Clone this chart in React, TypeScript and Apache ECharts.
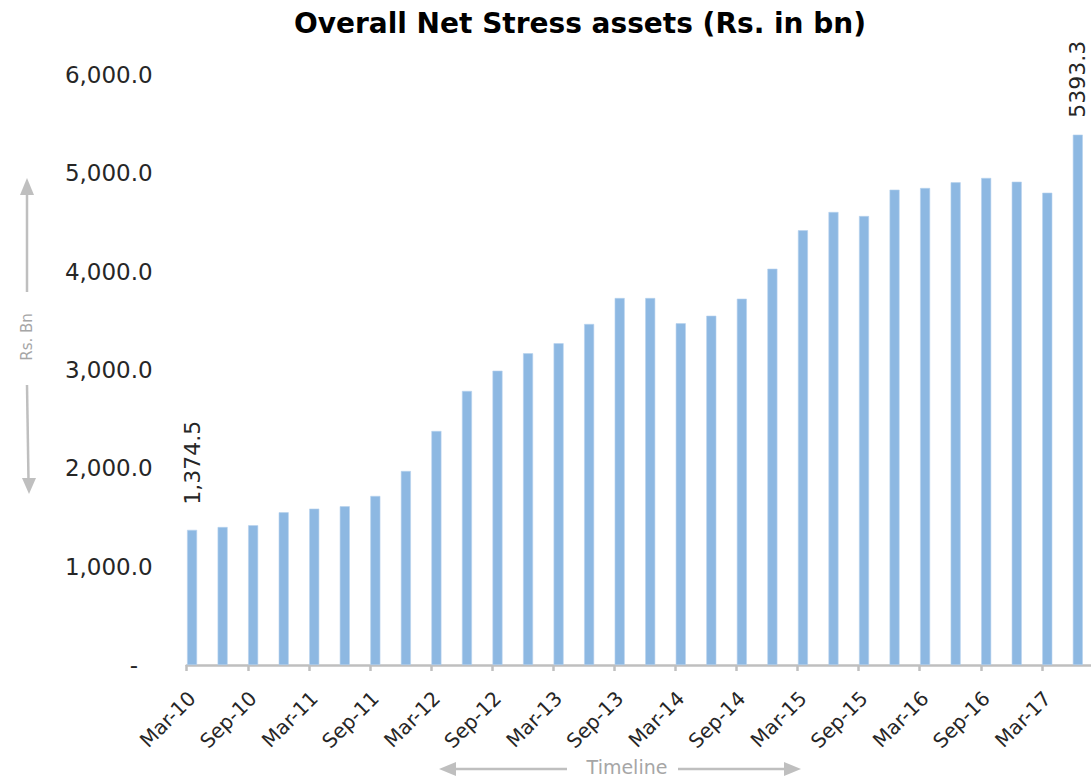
import React, { useEffect, useRef } from "react";
import * as echarts from "echarts";

const categories = [
  "Mar-10", "Jun-10", "Sep-10", "Dec-10",
  "Mar-11", "Jun-11", "Sep-11", "Dec-11",
  "Mar-12", "Jun-12", "Sep-12", "Dec-12",
  "Mar-13", "Jun-13", "Sep-13", "Dec-13",
  "Mar-14", "Jun-14", "Sep-14", "Dec-14",
  "Mar-15", "Jun-15", "Sep-15", "Dec-15",
  "Mar-16", "Jun-16", "Sep-16", "Dec-16",
  "Mar-17", "Jun-17",
];

const stressAssets = [
  1374.5, 1403, 1421, 1553,
  1590, 1614, 1719, 1973,
  2380, 2787, 2993, 3170,
  3272, 3468, 3732, 3732,
  3475, 3552, 3725, 4030,
  4421, 4607, 4566, 4834,
  4851, 4909, 4953, 4915,
  4803, 5393.3,
];

// data labels shown on specific bars (index -> text)
const labelIndices = [0, 29];
const labelTexts = ["1,374.5", "5393.3"];
const labelDistances = [25, 17];

const titleText = "Overall Net Stress assets (Rs. in bn)";
const yAxisTitle = "Rs. Bn";
const xAxisTitle = "Timeline";

const FONT = "'DejaVu Sans', sans-serif";
const GREY = "#BFBFBF";

function fmtY(v: number): string {
  if (v === 0) return "-\u00a0\u00a0";
  return v.toLocaleString("en-US", { minimumFractionDigits: 1, maximumFractionDigits: 1 });
}

export default function App() {
  const ref = useRef<HTMLDivElement>(null);

  useEffect(() => {
    document.body.style.margin = "0";
    if (!ref.current) return;
    const chart = echarts.init(ref.current, undefined, { renderer: "svg" });

    const barData = stressAssets.map((v, i) => {
      const k = labelIndices.indexOf(i);
      if (k < 0) return v;
      return {
        value: v,
        label: {
          show: true,
          position: "top",
          rotate: 90,
          align: "left",
          verticalAlign: "middle",
          distance: labelDistances[k],
          formatter: labelTexts[k],
          fontFamily: FONT,
          fontSize: 22,
          color: "#262626",
        },
      };
    });

    chart.setOption({
      animation: false,
      grid: {
        left: 186.7,
        right: -12,
        top: 75,
        bottom: 115,
        containLabel: false,
        outerBoundsMode: "none",
      },
      xAxis: {
        type: "category",
        data: categories,
        boundaryGap: true,
        axisLine: { show: true, lineStyle: { color: GREY, width: 2.5 } },
        axisTick: { show: true, interval: 1, length: 6, lineStyle: { color: GREY, width: 2.5 } },
        axisLabel: {
          interval: 1,
          rotate: 45,
          margin: 20,
          padding: [0, 14, 0, 0],
          fontFamily: FONT,
          fontSize: 20,
          color: "#262626",
        },
        splitLine: { show: false },
      },
      yAxis: {
        type: "value",
        min: 0,
        max: 6000,
        interval: 1000,
        axisLine: { show: false },
        axisTick: { show: false },
        splitLine: { show: false },
        axisLabel: {
          margin: 34,
          fontFamily: FONT,
          fontSize: 23,
          color: "#262626",
          formatter: (v: number) => fmtY(v),
        },
      },
      series: [
        {
          type: "bar",
          name: "Net Stress assets",
          data: barData,
          barWidth: 10,
          barGap: "98%",
          itemStyle: { color: "#8DB8E2", borderColor: "#B7D2EE", borderWidth: 0.6 },
        },
        {
          type: "bar",
          name: "spacer",
          data: stressAssets.map(() => null),
          barWidth: 10,
          itemStyle: { color: "transparent" },
          silent: true,
        },
      ],
      graphic: [
        {
          type: "text",
          x: 580,
          y: 23,
          style: {
            text: titleText,
            align: "center",
            verticalAlign: "middle",
            fontFamily: FONT,
            fontWeight: "bold",
            fontSize: 28,
            fill: "#000",
          },
        },
        // vertical axis annotation
        { type: "line", shape: { x1: 27, y1: 193, x2: 27, y2: 292 }, style: { stroke: GREY, lineWidth: 2.5 } },
        { type: "polygon", shape: { points: [[27, 178], [20, 195], [34, 195]] }, style: { fill: GREY } },
        { type: "line", shape: { x1: 27, y1: 385, x2: 28.5, y2: 480 }, style: { stroke: GREY, lineWidth: 2.5 } },
        { type: "polygon", shape: { points: [[29, 494], [22, 478], [36, 478]] }, style: { fill: GREY } },
        {
          type: "text",
          x: 27,
          y: 337,
          rotation: Math.PI / 2,
          style: {
            text: yAxisTitle,
            align: "center",
            verticalAlign: "middle",
            fontFamily: FONT,
            fontSize: 15,
            fill: "#A6A6A6",
          },
        },
        // horizontal axis annotation
        { type: "polygon", shape: { points: [[439, 769], [456, 762], [456, 776]] }, style: { fill: GREY } },
        { type: "line", shape: { x1: 455, y1: 769, x2: 567, y2: 769 }, style: { stroke: GREY, lineWidth: 2.5 } },
        { type: "line", shape: { x1: 678, y1: 769, x2: 786, y2: 769 }, style: { stroke: GREY, lineWidth: 2.5 } },
        { type: "polygon", shape: { points: [[801, 769], [784, 762], [784, 776]] }, style: { fill: GREY } },
        {
          type: "text",
          x: 627,
          y: 767,
          style: {
            text: xAxisTitle,
            align: "center",
            verticalAlign: "middle",
            fontFamily: FONT,
            fontSize: 19,
            fill: "#A6A6A6",
          },
        },
      ],
    });

    return () => chart.dispose();
  }, []);

  return <div ref={ref} style={{ width: 1091, height: 780 }} />;
}
